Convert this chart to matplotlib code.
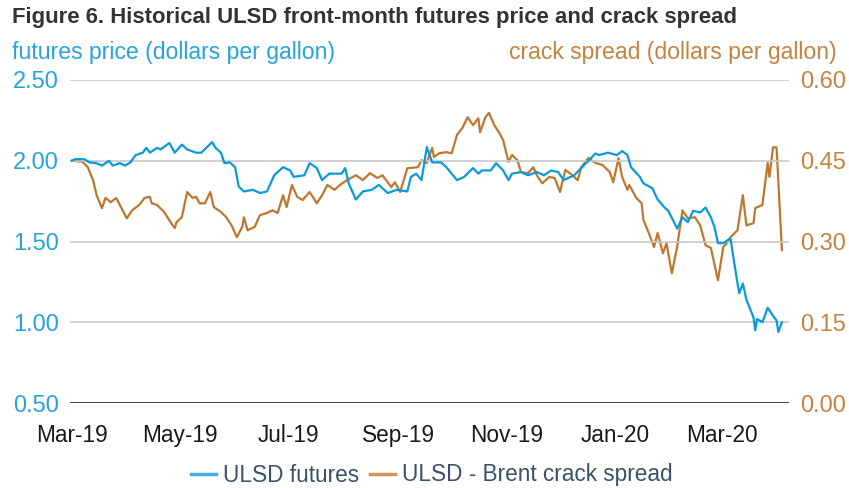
import matplotlib
matplotlib.use('Agg')
import matplotlib.pyplot as plt
import matplotlib.dates as mdates
import pandas as pd

plt.rcParams['font.family'] = ['Liberation Sans', 'DejaVu Sans']

# ULSD front-month futures (dollars per gallon)
futures_dates = [
    '2019-03-01', '2019-03-03', '2019-03-08', '2019-03-11', '2019-03-15', '2019-03-18',
    '2019-03-22', '2019-03-24', '2019-03-28', '2019-03-31', '2019-04-03', '2019-04-06',
    '2019-04-10', '2019-04-12', '2019-04-14', '2019-04-18', '2019-04-20', '2019-04-25',
    '2019-04-28', '2019-05-02', '2019-05-05', '2019-05-10', '2019-05-13', '2019-05-19',
    '2019-05-21', '2019-05-24', '2019-05-26', '2019-05-29', '2019-06-01', '2019-06-03',
    '2019-06-06', '2019-06-11', '2019-06-15', '2019-06-19', '2019-06-23', '2019-06-28',
    '2019-07-02', '2019-07-04', '2019-07-10', '2019-07-13', '2019-07-17', '2019-07-20',
    '2019-07-24', '2019-07-31', '2019-08-02', '2019-08-04', '2019-08-08', '2019-08-12',
    '2019-08-17', '2019-08-21', '2019-08-26', '2019-08-31', '2019-09-06', '2019-09-08',
    '2019-09-11', '2019-09-14', '2019-09-17', '2019-09-20', '2019-09-25', '2019-09-28',
    '2019-10-04', '2019-10-08', '2019-10-13', '2019-10-16', '2019-10-18', '2019-10-23',
    '2019-10-26', '2019-10-30', '2019-11-02', '2019-11-04', '2019-11-09', '2019-11-13',
    '2019-11-18', '2019-11-22', '2019-11-26', '2019-11-30', '2019-12-03', '2019-12-05',
    '2019-12-09', '2019-12-13', '2019-12-17', '2019-12-21', '2019-12-23', '2019-12-28',
    '2020-01-02', '2020-01-05', '2020-01-08', '2020-01-10', '2020-01-15', '2020-01-17',
    '2020-01-22', '2020-01-25', '2020-01-29', '2020-01-31', '2020-02-05', '2020-02-08',
    '2020-02-11', '2020-02-14', '2020-02-18', '2020-02-21', '2020-02-24', '2020-02-26',
    '2020-02-28', '2020-03-02', '2020-03-06', '2020-03-10', '2020-03-11', '2020-03-13',
    '2020-03-15', '2020-03-19', '2020-03-20', '2020-03-21', '2020-03-24', '2020-03-27',
    '2020-03-30', '2020-04-01', '2020-04-02', '2020-04-04',
]
futures_price = [
    2.00, 2.01, 2.01, 1.99, 1.985, 1.97,
    2.00, 1.97, 1.985, 1.97, 1.99, 2.035,
    2.05, 2.08, 2.05, 2.08, 2.07, 2.11,
    2.05, 2.10, 2.07, 2.05, 2.05, 2.115,
    2.08, 2.05, 1.985, 1.99, 1.96, 1.84,
    1.81, 1.82, 1.80, 1.81, 1.91, 1.96,
    1.94, 1.90, 1.91, 1.985, 1.955, 1.88,
    1.92, 1.92, 1.955, 1.86, 1.76, 1.81,
    1.82, 1.85, 1.80, 1.82, 1.81, 1.90,
    1.92, 1.88, 2.085, 1.99, 1.99, 1.96,
    1.88, 1.90, 1.955, 1.92, 1.94, 1.94,
    1.985, 1.94, 1.88, 1.92, 1.93, 1.91,
    1.93, 1.91, 1.94, 1.93, 1.88, 1.89,
    1.91, 1.955, 2.00, 2.045, 2.035, 2.05,
    2.035, 2.06, 2.035, 1.96, 1.90, 1.86,
    1.83, 1.76, 1.71, 1.69, 1.58, 1.65,
    1.62, 1.69, 1.68, 1.71, 1.65, 1.59,
    1.49, 1.49, 1.52, 1.24, 1.18, 1.24,
    1.14, 1.03, 0.95, 1.02, 1.00, 1.09,
    1.04, 1.01, 0.94, 1.00,
]

# ULSD - Brent crack spread (dollars per gallon)
crack_dates = [
    '2019-03-01', '2019-03-07', '2019-03-10', '2019-03-13', '2019-03-15', '2019-03-18',
    '2019-03-20', '2019-03-23', '2019-03-26', '2019-03-29', '2019-04-01', '2019-04-04',
    '2019-04-08', '2019-04-11', '2019-04-14', '2019-04-15', '2019-04-18', '2019-04-22',
    '2019-04-26', '2019-04-28', '2019-04-29', '2019-05-02', '2019-05-05', '2019-05-08',
    '2019-05-10', '2019-05-12', '2019-05-15', '2019-05-18', '2019-05-20', '2019-05-24',
    '2019-05-27', '2019-05-30', '2019-06-02', '2019-06-05', '2019-06-06', '2019-06-08',
    '2019-06-12', '2019-06-15', '2019-06-19', '2019-06-22', '2019-06-25', '2019-06-28',
    '2019-06-30', '2019-07-03', '2019-07-06', '2019-07-09', '2019-07-13', '2019-07-17',
    '2019-07-20', '2019-07-23', '2019-07-27', '2019-07-30', '2019-08-03', '2019-08-08',
    '2019-08-12', '2019-08-16', '2019-08-20', '2019-08-23', '2019-08-28', '2019-08-30',
    '2019-09-02', '2019-09-06', '2019-09-12', '2019-09-14', '2019-09-17', '2019-09-20',
    '2019-09-21', '2019-09-24', '2019-09-28', '2019-10-01', '2019-10-04', '2019-10-07',
    '2019-10-10', '2019-10-13', '2019-10-16', '2019-10-17', '2019-10-20', '2019-10-22',
    '2019-10-25', '2019-10-28', '2019-10-30', '2019-11-02', '2019-11-04', '2019-11-07',
    '2019-11-09', '2019-11-13', '2019-11-16', '2019-11-18', '2019-11-21', '2019-11-25',
    '2019-11-28', '2019-12-01', '2019-12-04', '2019-12-08', '2019-12-11', '2019-12-13',
    '2019-12-17', '2019-12-21', '2019-12-25', '2019-12-29', '2019-12-31', '2020-01-03',
    '2020-01-05', '2020-01-08', '2020-01-09', '2020-01-13', '2020-01-16', '2020-01-17',
    '2020-01-20', '2020-01-23', '2020-01-25', '2020-01-28', '2020-01-30', '2020-02-02',
    '2020-02-05', '2020-02-08', '2020-02-11', '2020-02-15', '2020-02-18', '2020-02-21',
    '2020-02-24', '2020-02-28', '2020-03-02', '2020-03-04', '2020-03-06', '2020-03-10',
    '2020-03-13', '2020-03-15', '2020-03-19', '2020-03-20', '2020-03-24', '2020-03-27',
    '2020-03-28', '2020-03-30', '2020-04-01', '2020-04-04',
]
crack_spread = [
    0.450, 0.448, 0.438, 0.414, 0.386, 0.362,
    0.381, 0.373, 0.381, 0.362, 0.343, 0.358,
    0.368, 0.381, 0.383, 0.371, 0.368, 0.355,
    0.334, 0.325, 0.336, 0.345, 0.392, 0.381,
    0.383, 0.371, 0.371, 0.392, 0.364, 0.355,
    0.345, 0.330, 0.308, 0.327, 0.345, 0.321,
    0.327, 0.349, 0.353, 0.358, 0.353, 0.386,
    0.364, 0.405, 0.383, 0.377, 0.392, 0.371,
    0.386, 0.405, 0.396, 0.405, 0.414, 0.423,
    0.414, 0.427, 0.418, 0.423, 0.401, 0.410,
    0.392, 0.436, 0.438, 0.451, 0.446, 0.474,
    0.457, 0.464, 0.466, 0.464, 0.498, 0.511,
    0.531, 0.516, 0.529, 0.503, 0.531, 0.539,
    0.516, 0.501, 0.488, 0.448, 0.461, 0.451,
    0.429, 0.427, 0.438, 0.423, 0.408, 0.420,
    0.418, 0.392, 0.433, 0.423, 0.414, 0.438,
    0.455, 0.446, 0.442, 0.429, 0.410, 0.455,
    0.420, 0.396, 0.405, 0.381, 0.371, 0.340,
    0.316, 0.290, 0.316, 0.278, 0.297, 0.241,
    0.290, 0.358, 0.343, 0.345, 0.330, 0.293,
    0.288, 0.228, 0.290, 0.297, 0.308, 0.321,
    0.386, 0.330, 0.334, 0.362, 0.368, 0.446,
    0.420, 0.475, 0.475, 0.284,
]

left_ticks = [0.50, 1.00, 1.50, 2.00, 2.50]
right_ticks = [0.00, 0.15, 0.30, 0.45, 0.60]

blue = '#0a9ad9'
orange = '#bf772f'
blue_txt = '#27a3de'
orange_txt = '#c4843f'

fig = plt.figure(figsize=(8.49, 4.88), dpi=100)
ax = fig.add_axes([70 / 849, 1 - 403 / 488, 719 / 849, 323 / 488])
ax2 = ax.twinx()

fd = pd.to_datetime(futures_dates)
cd = pd.to_datetime(crack_dates)

ax2.plot(cd, crack_spread, color=orange, lw=1.6, label='ULSD - Brent crack spread', zorder=3)
ax.plot(fd, futures_price, color=blue, lw=1.6, label='ULSD futures', zorder=3)
ax.set_zorder(ax2.get_zorder() + 1)
ax.patch.set_visible(False)

ax.set_ylim(0.5, 2.5)
ax2.set_ylim(0.0, 0.6)
ax.set_yticks(left_ticks)
ax2.set_yticks(right_ticks)
ax.set_yticklabels([f'{v:.2f}' for v in left_ticks])
ax2.set_yticklabels([f'{v:.2f}' for v in right_ticks])
ax.set_xlim(pd.Timestamp('2019-02-28'), pd.Timestamp('2020-04-08'))
ax.xaxis.set_major_locator(mdates.MonthLocator(bymonth=[1, 3, 5, 7, 9, 11]))
ax.xaxis.set_major_formatter(mdates.DateFormatter('%b-%y'))

for a in (ax, ax2):
    for s in a.spines.values():
        s.set_visible(False)
ax.grid(axis='y', color='#c8c8c8', lw=1.2)
ax.axhline(0.5, color='#3a3a3a', lw=1.3, zorder=4)

ax.tick_params(axis='y', length=0, pad=8, labelsize=17, labelcolor=blue_txt)
ax2.tick_params(axis='y', length=0, pad=8, labelsize=17, labelcolor=orange_txt)
ax.tick_params(axis='x', length=0, pad=15, labelsize=16.3, labelcolor='#1a1a1a')

fig.text(12 / 849, 1 - 17 / 488, 'Figure 6. Historical ULSD front-month futures price and crack spread',
         fontsize=15.9, fontweight='bold', color='#333333', va='center', ha='left')
fig.text(12 / 849, 1 - 53 / 488, 'futures price (dollars per gallon)',
         fontsize=16.6, color=blue_txt, va='center', ha='left')
fig.text(837 / 849, 1 - 53 / 488, 'crack spread (dollars per gallon)',
         fontsize=16.6, color=orange_txt, va='center', ha='right')

h1, l1 = ax.get_legend_handles_labels()
h2, l2 = ax2.get_legend_handles_labels()
leg = fig.legend(h1 + h2, l1 + l2, loc='center', bbox_to_anchor=(432 / 849, 1 - 475 / 488),
                 ncol=2, frameon=False, fontsize=16.3, handlelength=1.1, handletextpad=0.3,
                 columnspacing=0.5, borderpad=0.2)
leg.get_lines()[0].set_color('#3fb0e4')
leg.get_lines()[1].set_color('#d1955a')
for line in leg.get_lines():
    line.set_linewidth(2.5)
for t in leg.get_texts():
    t.set_color('#3d5069')

fig.savefig('out.png', dpi=100)
